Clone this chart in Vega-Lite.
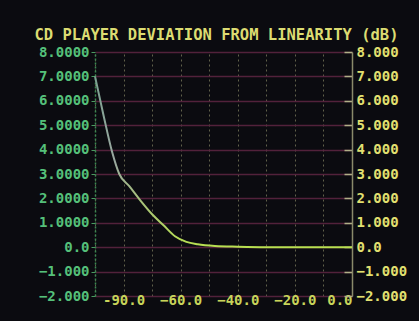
{
  "$schema": "https://vega.github.io/schema/vega-lite/v6.json",
  "width": 257,
  "height": 244,
  "autosize": {"type": "none"},
  "padding": {"left": 95, "top": 52, "right": 67, "bottom": 25},
  "background": "#0b0b10",
  "title": {
    "text": "CD PLAYER DEVIATION FROM LINEARITY (dB)",
    "font": "DejaVu Sans Mono",
    "fontWeight": "bold",
    "fontSize": 15.5,
    "color": "#dcdc72",
    "anchor": "middle",
    "dx": -7,
    "offset": 2
  },
  "data": {
    "values": [
      {"level": -90, "dev": 7.0},
      {"level": -87, "dev": 5.4},
      {"level": -84, "dev": 3.9},
      {"level": -81.5, "dev": 3.0},
      {"level": -78, "dev": 2.5},
      {"level": -74, "dev": 1.9},
      {"level": -70, "dev": 1.35},
      {"level": -66, "dev": 0.9},
      {"level": -62, "dev": 0.45},
      {"level": -58, "dev": 0.22},
      {"level": -54, "dev": 0.12},
      {"level": -48, "dev": 0.05},
      {"level": -40, "dev": 0.02},
      {"level": -30, "dev": 0.0},
      {"level": -15, "dev": 0.0},
      {"level": 0, "dev": 0.0}
    ]
  },
  "config": {
    "view": {"stroke": null},
    "axis": {
      "labelFont": "DejaVu Sans Mono",
      "labelFontWeight": "bold",
      "labelFontSize": 14,
      "title": null
    }
  },
  "resolve": {"axis": {"y": "independent", "x": "independent"}},
  "layer": [
    {
      "mark": {
        "type": "line",
        "strokeWidth": 2,
        "interpolate": "monotone",
        "color": {
          "gradient": "linear",
          "x1": 0, "y1": 0, "x2": 0, "y2": 1,
          "stops": [
            {"offset": 0, "color": "#7aa090"},
            {"offset": 0.5, "color": "#9aa8a0"},
            {"offset": 1, "color": "#b8e050"}
          ]
        }
      },
      "encoding": {
        "x": {
          "field": "level",
          "type": "quantitative",
          "scale": {"domain": [-90, 0], "nice": false, "zero": false},
          "axis": {
            "orient": "bottom",
            "values": [-80, -60, -40, -20, 0],
            "labelExpr": "datum.value == -80 ? '-90.0' : format(datum.value, '.1f')",
            "labelColor": "#c8d45a",
            "labelPadding": -3,
            "ticks": false,
            "domain": false,
            "grid": false
          }
        },
        "y": {
          "field": "dev",
          "type": "quantitative",
          "scale": {"domain": [-2, 8], "nice": false},
          "axis": {
            "orient": "left",
            "values": [8, 7, 6, 5, 4, 3, 2, 1, 0, -1, -2],
            "labelExpr": "datum.value == 0 ? '0.0' : (datum.value < 0 ? format(datum.value, '.3f') : format(datum.value, '.4f'))",
            "labelColor": "#55c07a",
            "labelPadding": 2,
            "tickColor": "#4a9a60",
            "tickSize": 4,
            "domainColor": "#3a8a50",
            "domainDash": [2, 2],
            "domainWidth": 1.5,
            "grid": true,
            "gridColor": "#5a2440",
            "gridWidth": 1.5,
            "gridOpacity": 0.9
          }
        }
      }
    },
    {
      "mark": {"type": "line", "opacity": 0},
      "encoding": {
        "x": {
          "field": "level",
          "type": "quantitative",
          "axis": {
            "orient": "top",
            "values": [-90, -80, -70, -60, -50, -40, -30, -20, -10, 0],
            "labels": false,
            "ticks": false,
            "domain": false,
            "grid": true,
            "gridColor": "#77775a",
            "gridDash": [2, 3],
            "gridWidth": 1,
            "gridOpacity": 0.8
          }
        },
        "y": {
          "field": "dev",
          "type": "quantitative",
          "axis": {
            "orient": "right",
            "values": [8, 7, 6, 5, 4, 3, 2, 1, 0, -1, -2],
            "labelExpr": "datum.value == 0 ? '0.0' : format(datum.value, '.3f')",
            "labelColor": "#e2e070",
            "labelPadding": 12,
            "tickColor": "#b0b088",
            "tickWidth": 1.5,
            "tickSize": -8,
            "domainColor": "#8a8a6a",
            "domainWidth": 1.5,
            "grid": false
          }
        }
      }
    }
  ]
}
